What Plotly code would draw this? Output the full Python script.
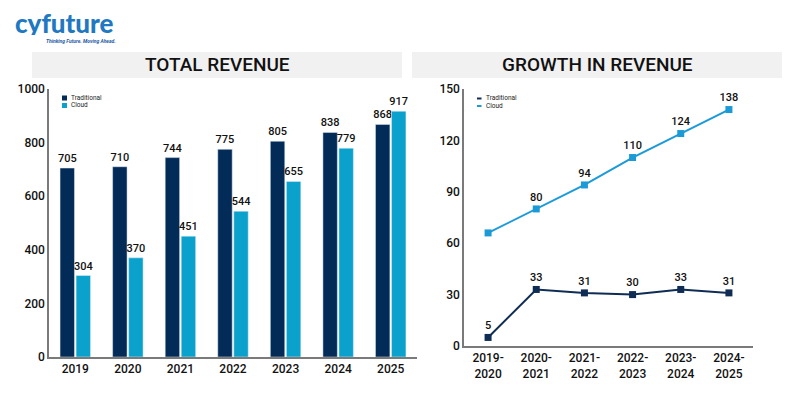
import plotly.graph_objects as go

years = ["2019", "2020", "2021", "2022", "2023", "2024", "2025"]
traditional_rev = [705, 710, 744, 775, 805, 838, 868]
cloud_rev = [304, 370, 451, 544, 655, 779, 917]

periods = ["2019-<br>2020", "2020-<br>2021", "2021-<br>2022", "2022-<br>2023", "2023-<br>2024", "2024-<br>2025"]
traditional_growth = [5, 33, 31, 30, 33, 31]
cloud_growth = [66, 80, 94, 110, 124, 138]
cloud_growth_labels = ["", "80", "94", "110", "124", "138"]

NAVY = "#022b57"
CYAN = "#0aa2cc"
LINE_NAVY = "#0f2c55"
LINE_CYAN = "#1b9ad6"
FONT = "Roboto"
W, H = 800, 400

def px(x):
    return x / W

def py(y):
    return 1 - y / H

fig = go.Figure()

lbl_font = dict(size=11, color="#111", family=FONT, weight=500)

fig.add_trace(go.Bar(x=years, y=traditional_rev, name="Traditional", marker_color=NAVY,
                     text=traditional_rev, textposition="outside", cliponaxis=False, constraintext="none",
                     textfont=lbl_font, xaxis="x", yaxis="y", showlegend=False))
fig.add_trace(go.Bar(x=years, y=cloud_rev, name="Cloud", marker_color=CYAN,
                     text=cloud_rev, textposition="outside", cliponaxis=False, constraintext="none",
                     textfont=lbl_font, xaxis="x", yaxis="y", showlegend=False))

fig.add_trace(go.Scatter(x=periods, y=traditional_growth, name="Traditional", mode="lines+markers+text",
                         line=dict(color=LINE_NAVY, width=2), marker=dict(symbol="square", size=7, color=LINE_NAVY),
                         text=[str(v) for v in traditional_growth], textposition="top center", cliponaxis=False,
                         textfont=lbl_font, xaxis="x2", yaxis="y2", showlegend=False))
fig.add_trace(go.Scatter(x=periods, y=cloud_growth, name="Cloud", mode="lines+markers+text",
                         line=dict(color=LINE_CYAN, width=2), marker=dict(symbol="square", size=7, color=LINE_CYAN),
                         text=cloud_growth_labels, textposition="top center", cliponaxis=False,
                         textfont=lbl_font, xaxis="x2", yaxis="y2", showlegend=False))

axis_common = dict(showgrid=False, zeroline=False, showline=True, linecolor="#7a7a7a", linewidth=1.5,
                   ticks="", tickfont=dict(size=12, color="#111", family=FONT, weight=500))

leg_font = dict(size=6.5, color="#222", family=FONT)

shapes = [
    dict(type="rect", xref="paper", yref="paper", x0=px(32), x1=px(402), y0=py(78), y1=py(52),
         fillcolor="#f1f1f1", line=dict(width=0), layer="below"),
    dict(type="rect", xref="paper", yref="paper", x0=px(412), x1=px(782), y0=py(78), y1=py(52),
         fillcolor="#f1f1f1", line=dict(width=0), layer="below"),
    dict(type="rect", xref="paper", yref="paper", x0=px(62), x1=px(67), y0=py(100.5), y1=py(95.5),
         fillcolor=NAVY, line=dict(width=0)),
    dict(type="rect", xref="paper", yref="paper", x0=px(62), x1=px(67), y0=py(108), y1=py(103),
         fillcolor=CYAN, line=dict(width=0)),
    dict(type="line", xref="paper", yref="paper", x0=px(477), x1=px(481.5), y0=py(98.5), y1=py(98.5),
         line=dict(color=LINE_NAVY, width=2)),
    dict(type="line", xref="paper", yref="paper", x0=px(477), x1=px(481.5), y0=py(106), y1=py(106),
         line=dict(color=LINE_CYAN, width=2)),
]

annotations = [
    dict(text="TOTAL REVENUE", xref="paper", yref="paper", x=px(217), y=py(65), showarrow=False,
         xanchor="center", yanchor="middle", font=dict(size=19, color="#111", family=FONT, weight=500)),
    dict(text="GROWTH IN REVENUE", xref="paper", yref="paper", x=px(597), y=py(65), showarrow=False,
         xanchor="center", yanchor="middle", font=dict(size=19, color="#111", family=FONT, weight=500)),
    dict(text="cyfuture", xref="paper", yref="paper", x=px(13), y=py(23), showarrow=False,
         xanchor="left", yanchor="middle", height=24,
         font=dict(size=26, color="#1e78c2", family="Lato", weight=900)),
    dict(text="<i>Thinking Future. Moving Ahead.</i>", xref="paper", yref="paper", x=px(44), y=py(41),
         showarrow=False, xanchor="left", yanchor="middle", font=dict(size=5, color="#1e5aa8", family=FONT, weight=700)),
    dict(text="Traditional", xref="paper", yref="paper", x=px(69), y=py(98), showarrow=False,
         xanchor="left", yanchor="middle", font=leg_font),
    dict(text="Cloud", xref="paper", yref="paper", x=px(69), y=py(105.5), showarrow=False,
         xanchor="left", yanchor="middle", font=leg_font),
    dict(text="Traditional", xref="paper", yref="paper", x=px(484), y=py(98.5), showarrow=False,
         xanchor="left", yanchor="middle", font=leg_font),
    dict(text="Cloud", xref="paper", yref="paper", x=px(484), y=py(106), showarrow=False,
         xanchor="left", yanchor="middle", font=leg_font),
]

fig.update_layout(
    width=W, height=H,
    margin=dict(l=0, r=0, t=0, b=0, autoexpand=False),
    paper_bgcolor="white", plot_bgcolor="white",
    barmode="group", bargap=0.39, bargroupgap=0.1,
    font=dict(family=FONT),
    showlegend=False,
    xaxis=dict(domain=[px(49), px(417)], anchor="y", range=[-0.5, 6.5], **axis_common),
    yaxis=dict(domain=[py(357), py(89)], anchor="x", range=[0, 1000], dtick=200, **axis_common),
    xaxis2=dict(domain=[px(464), px(753)], anchor="y2", range=[-0.5, 5.5], **axis_common),
    yaxis2=dict(domain=[py(346), py(89)], anchor="x2", range=[0, 150], dtick=30, **axis_common),
    shapes=shapes,
    annotations=annotations,
)

fig.write_html("out.html", config={"displayModeBar": False},
               post_script="document.body.style.margin='0';document.body.style.overflow='hidden';")
